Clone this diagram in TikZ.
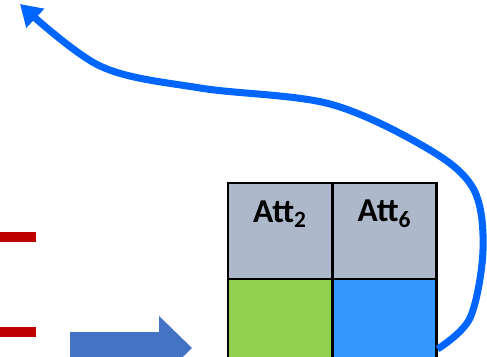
\documentclass[tikz,border=0pt]{standalone}
\usepackage{fontspec}
\setmainfont{Carlito}
\usetikzlibrary{arrows.meta,calc}
\definecolor{hdrgray}{HTML}{ADB9CA}
\definecolor{cellgreen}{HTML}{92D050}
\definecolor{cellblue}{HTML}{3399FF}
\definecolor{flowblue}{HTML}{4472C4}
\definecolor{loopblue}{HTML}{0066FF}
\definecolor{barred}{HTML}{C00000}
\tikzset{
  cell/.style={draw=black, line width=1.2pt, minimum width=2.08cm, minimum height=1.92cm, inner sep=0pt},
  head/.style={font=\bfseries\fontsize{19}{22}\selectfont, inner sep=0pt},
  bar/.style={barred, line width=5.6pt},
  loop/.style={loopblue, line width=4pt, -{Triangle[length=0.42cm,width=0.5cm]}},
}
\begin{document}
\begin{tikzpicture}[x=0.02cm,y=-0.02cm]
  \useasboundingbox (0,0) rectangle (487,356);
  \clip (0,0) rectangle (487,356);
  % two-column attribute table
  \node[cell, fill=hdrgray]   (h2) at (280,231) {};
  \node[cell, fill=hdrgray]   (h6) at (384.5,231) {};
  \node[cell, fill=cellgreen] (b2) at (280,327) {};
  \node[cell, fill=cellblue]  (b6) at (384.5,327) {};
  \node[head] (t2) at (280,214) {Att\textsubscript{2}};
  \node[head] (t6) at (384.5,214) {Att\textsubscript{6}};
  % red bar fragments at the left edge
  \coordinate (r1a) at (0,237);
  \coordinate (r1b) at (36,237);
  \coordinate (r2a) at (0,332);
  \coordinate (r2b) at (36,332);
  \draw[bar] (r1a) -- (r1b);
  \draw[bar] (r2a) -- (r2b);
  % block arrow pointing at the table
  \fill[flowblue] (70,332) -- (159,332) -- (159,316) -- (192,348) -- (159,380) -- (159,364) -- (70,364) -- cycle;
  % feedback loop back to the top left
  \coordinate (start) at ($(b6.south east)+(0,-27)$);
  \coordinate (tip) at (20,4);
  \draw[loop] plot[smooth, tension=0.55] coordinates {(start) (470,318) (483,250) (474,190) (430,150) (330,104) (200,88) (100,66) (tip)};
\end{tikzpicture}
\end{document}
